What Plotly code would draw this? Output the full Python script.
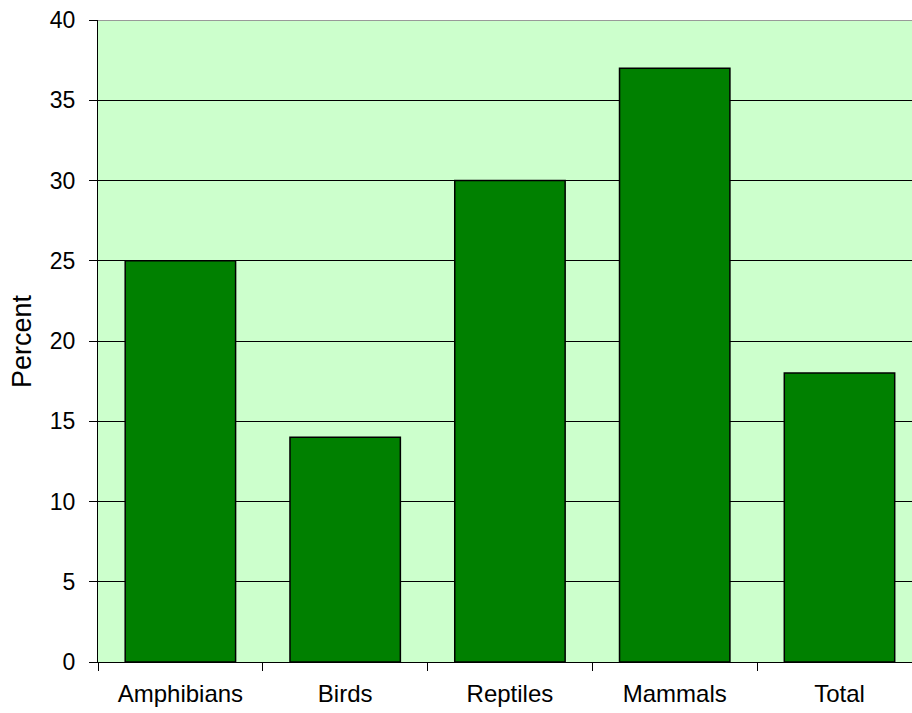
import plotly.graph_objects as go

categories = ["Amphibians", "Birds", "Reptiles", "Mammals", "Total"]
percent = [25, 14, 30, 37, 18]
y_ticks = [0, 5, 10, 15, 20, 25, 30, 35, 40]

FONT = "Liberation Sans, Arial, sans-serif"

fig = go.Figure(
    go.Bar(
        x=categories,
        y=percent,
        marker=dict(color="#008000", line=dict(color="#000000", width=1.5)),
        width=0.67,
    )
)

fig.update_layout(
    width=912,
    height=713,
    margin=dict(l=98, r=0, t=20, b=51),
    paper_bgcolor="white",
    plot_bgcolor="#CCFFCC",
    font=dict(family=FONT, size=24, color="#000000"),
    showlegend=False,
)

fig.update_xaxes(
    type="category",
    range=[-0.5, 4.44],
    tickson="boundaries",
    ticks="outside",
    ticklen=8,
    tickcolor="#000000",
    showline=True,
    linecolor="#000000",
    linewidth=1,
    showgrid=False,
    ticklabelstandoff=10,
    tickfont=dict(size=24),
)

fig.update_yaxes(
    range=[0, 40],
    tickvals=y_ticks,
    ticks="outside",
    ticklen=8,
    tickcolor="#000000",
    showline=True,
    linecolor="#000000",
    linewidth=1,
    showgrid=True,
    gridcolor="#000000",
    gridwidth=1,
    zeroline=False,
    ticklabelstandoff=9,
    tickfont=dict(size=23),
)

# axis title placed beside the tick labels
fig.add_annotation(
    text="Percent",
    xref="paper", yref="paper",
    x=0, y=0.5,
    xanchor="center", yanchor="middle",
    xshift=-76,
    textangle=-90,
    showarrow=False,
    font=dict(family=FONT, size=27, color="#000000"),
)

# grey top border of the plotting area
fig.add_shape(
    type="line", xref="paper", yref="y",
    x0=0, x1=1, y0=40, y1=40,
    line=dict(color="#999999", width=2),
)

fig.write_html("out.html")
